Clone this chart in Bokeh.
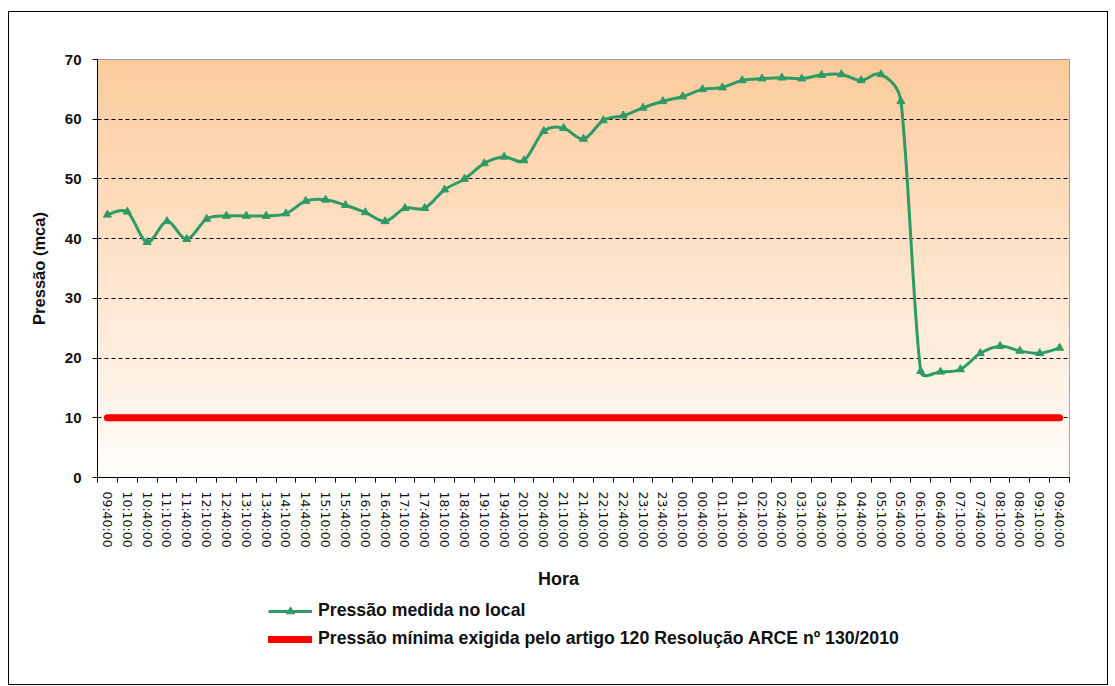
import numpy as np
from bokeh.plotting import figure
from bokeh.layouts import column
from bokeh.models import FixedTicker, Range1d, Legend, LegendItem, Label
from bokeh.embed import file_html
from bokeh.resources import INLINE

times = ["09:40:00", "10:10:00", "10:40:00", "11:10:00", "11:40:00", "12:10:00", "12:40:00",
         "13:10:00", "13:40:00", "14:10:00", "14:40:00", "15:10:00", "15:40:00", "16:10:00",
         "16:40:00", "17:10:00", "17:40:00", "18:10:00", "18:40:00", "19:10:00", "19:40:00",
         "20:10:00", "20:40:00", "21:10:00", "21:40:00", "22:10:00", "22:40:00", "23:10:00",
         "23:40:00", "00:10:00", "00:40:00", "01:10:00", "01:40:00", "02:10:00", "02:40:00",
         "03:10:00", "03:40:00", "04:10:00", "04:40:00", "05:10:00", "05:40:00", "06:10:00",
         "06:40:00", "07:10:00", "07:40:00", "08:10:00", "08:40:00", "09:10:00", "09:40:00"]

pressure = [44.0, 44.5, 39.4, 42.9, 39.9, 43.3, 43.8, 43.8, 43.8, 44.2, 46.3, 46.5, 45.6,
            44.4, 42.9, 45.1, 45.1,
            48.2, 50.0, 52.6, 53.7, 53.1, 58.0, 58.5, 56.7,
            59.8, 60.6, 61.9, 63.0, 63.8, 65.0, 65.3, 66.5, 66.8, 66.95, 66.8, 67.4, 67.5, 66.5, 67.5,
            63.0, 17.8, 17.7, 18.1, 20.8, 22.0, 21.2, 20.8, 21.7]

min_pressure = [10] * len(times)

y_ticks = [0, 10, 20, 30, 40, 50, 60, 70]

x_title = "Hora"
y_title = "Pressão (mca)"
label_main = "Pressão medida no local"
label_min = "Pressão mínima exigida pelo artigo 120 Resolução ARCE nº 130/2010"

GREEN = "#2E9A64"
RED = "#FF0000"
TXT = "#111111"
FONT = "Liberation Sans"

n = len(times)
W = 1098
BL = 88
FRAME_W, FRAME_H = 972, 418
MAIN_H, LEG_H = 550, 122
Y_MAX = 70

xi = np.arange(n, dtype=float)
yv = np.array(pressure, dtype=float)

p = figure(width=W, height=MAIN_H, output_backend="svg", toolbar_location=None,
           x_range=Range1d(-0.5, n - 0.5), y_range=Range1d(0, Y_MAX),
           min_border_left=BL, min_border_right=W - BL - FRAME_W, min_border_top=47,
           min_border_bottom=MAIN_H - 47 - FRAME_H,
           frame_width=FRAME_W, frame_height=FRAME_H)
p.background_fill_color = "white"
p.border_fill_color = "white"
p.outline_line_color = "#8C8C8C"
p.outline_line_width = 1

# gradient background (style only)
H = 256
img = np.empty((H, 2), dtype=np.uint32)
view = img.view(dtype=np.uint8).reshape((H, 2, 4))
t = np.linspace(0, 1, H)[:, None]
top = np.array([252, 203, 156])
bot = np.array([255, 253, 251])
cols = bot + (top - bot) * t
for c in range(3):
    view[:, :, c] = cols[:, c:c + 1].round().astype(np.uint8)
view[:, :, 3] = 255
p.image_rgba(image=[img], x=-0.5, y=0, dw=n, dh=Y_MAX, level="image")

# grid
p.xgrid.visible = False
p.ygrid.ticker = FixedTicker(ticks=y_ticks[1:-1])
p.ygrid.grid_line_color = "black"
p.ygrid.grid_line_dash = "4 3"
p.ygrid.grid_line_width = 1

# Excel-like smoothed line: bezier control points computed from the data in screen space
kx = FRAME_W / n
ky = FRAME_H / Y_MAX
P = np.stack([xi * kx, yv * ky], axis=1)
cx0, cy0, cx1, cy1 = [], [], [], []
for i in range(n - 1):
    p0 = P[i - 1] if i > 0 else P[i]
    p1 = P[i]
    p2 = P[i + 1]
    p3 = P[i + 2] if i + 2 < n else P[i + 1]
    d02 = np.hypot(*(p2 - p0))
    d12 = np.hypot(*(p2 - p1))
    d13 = np.hypot(*(p3 - p1))
    f0 = f1 = 1.0 / 6.0
    if d02 / 6 >= d12 / 2 and d02 > 0:
        f0 = d12 / d02 / 2
    if d13 / 6 >= d12 / 2 and d13 > 0:
        f1 = d12 / d13 / 2
    c1 = p1 + (p2 - p0) * f0
    c2 = p2 - (p3 - p1) * f1
    cx0.append(c1[0] / kx); cy0.append(c1[1] / ky)
    cx1.append(c2[0] / kx); cy1.append(c2[1] / ky)

p.bezier(x0=xi[:-1], y0=yv[:-1], x1=xi[1:], y1=yv[1:], cx0=cx0, cy0=cy0, cx1=cx1, cy1=cy1,
         line_color=GREEN, line_width=3)
p.scatter(xi, yv, marker="triangle", size=8, fill_color=GREEN, line_color=GREEN)
p.line(xi, min_pressure, line_color=RED, line_width=7, line_cap="round")

# axes
p.xaxis.ticker = FixedTicker(ticks=list(range(n)), minor_ticks=[i - 0.5 for i in range(n + 1)])
p.xaxis.major_label_overrides = {i: times[i] for i in range(n)}
p.xaxis.major_label_orientation = "vertical"
p.xaxis.major_tick_out = 0
p.xaxis.major_tick_in = 0
p.xaxis.minor_tick_out = 5
p.xaxis.minor_tick_in = 0
p.xaxis.minor_tick_line_color = "black"
p.xaxis.major_label_standoff = 9
p.xaxis.major_label_text_font = "DejaVu Sans"
p.xaxis.major_label_text_font_size = "12.5px"
p.xaxis.major_label_text_color = TXT

p.yaxis.ticker = FixedTicker(ticks=y_ticks)
p.yaxis.major_tick_out = 5
p.yaxis.major_tick_in = 0
p.yaxis.minor_tick_line_color = None
p.yaxis.major_label_standoff = 11
p.yaxis.major_label_text_font = FONT
p.yaxis.major_label_text_font_style = "bold"
p.yaxis.major_label_text_font_size = "15px"
p.yaxis.major_label_text_color = TXT
p.yaxis.axis_label = y_title
p.yaxis.axis_label_text_font = FONT
p.yaxis.axis_label_text_font_style = "bold"
p.yaxis.axis_label_text_font_size = "16.5px"
p.yaxis.axis_label_text_color = TXT
p.yaxis.axis_label_standoff = 14

for ax in (p.xaxis, p.yaxis):
    ax.axis_line_color = "black"
    ax.axis_line_width = 1
    ax.major_tick_line_color = "black"

# lower panel: x axis title and legend (frame aligned with the main frame, units = px)
q = figure(width=W, height=LEG_H, output_backend="svg", toolbar_location=None,
           x_range=Range1d(0, FRAME_W), y_range=Range1d(0, LEG_H),
           frame_width=FRAME_W, frame_height=LEG_H,
           x_axis_location=None, y_axis_location=None,
           min_border_left=BL, min_border_right=W - BL - FRAME_W, min_border_top=0, min_border_bottom=0)
q.outline_line_color = None
q.background_fill_color = "white"
q.border_fill_color = "white"
q.xgrid.visible = False
q.ygrid.visible = False

q.add_layout(Label(x=461, y=LEG_H - 16, text=x_title, text_align="center", text_baseline="middle",
                   text_font=FONT, text_font_style="bold", text_font_size="18px", text_color=TXT))

nan = [float("nan")]
lg_line = q.line(x=nan, y=nan, line_color=GREEN, line_width=3)
lg_mark = q.scatter(x=nan, y=nan, marker="triangle", size=8, fill_color=GREEN, line_color=GREEN)
lg_red = q.line(x=nan, y=nan, line_color=RED, line_width=7, line_cap="round")

legend = Legend(items=[LegendItem(label=label_main, renderers=[lg_line, lg_mark]),
                       LegendItem(label=label_min, renderers=[lg_red])],
                location=(171, 35), orientation="vertical")
legend.background_fill_alpha = 0
legend.border_line_color = None
legend.padding = 0
legend.margin = 0
legend.spacing = 7
legend.glyph_width = 44
legend.glyph_height = 20
legend.label_height = 20
legend.label_standoff = 6
legend.label_text_font = FONT
legend.label_text_font_style = "bold"
legend.label_text_font_size = "17.7px"
legend.label_text_color = TXT
q.add_layout(legend, "center")

layout = column(p, q, spacing=0)
layout.styles = {"border": "1px solid #000000", "margin-left": "8px", "margin-top": "11px"}

open("out.html", "w").write(file_html(layout, INLINE))
